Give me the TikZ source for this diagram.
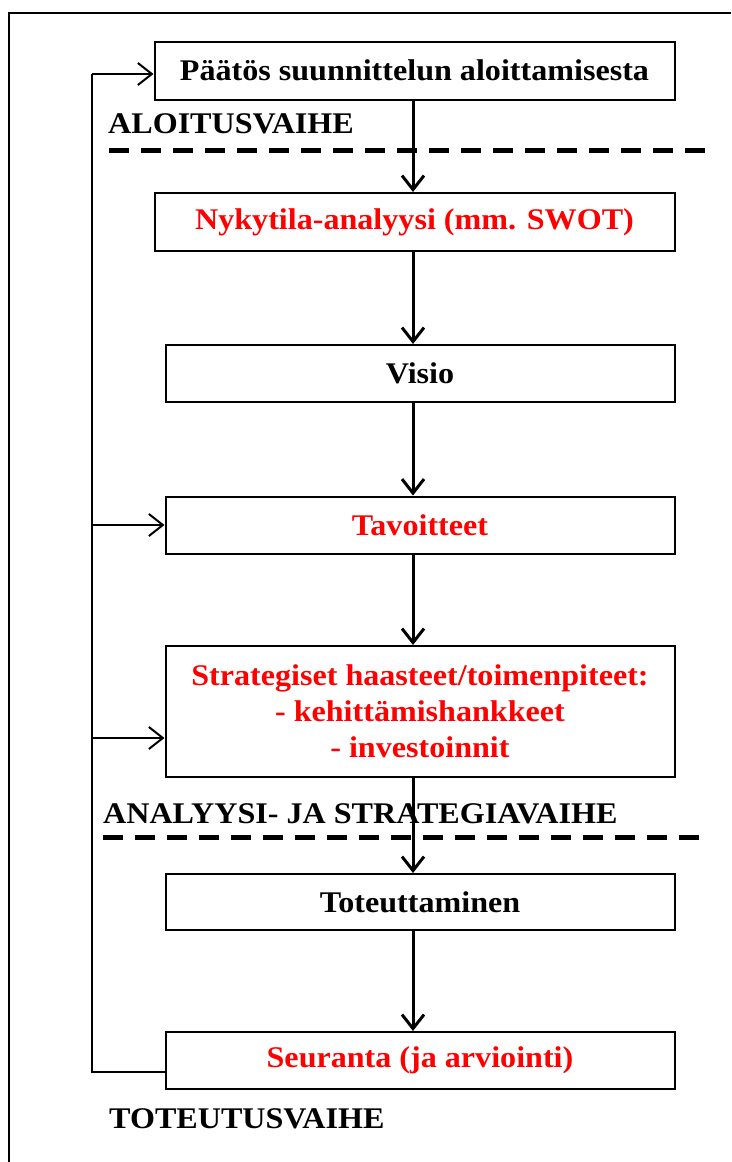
\documentclass[tikz,border=0pt]{standalone}
\usepackage{fontspec}
\setmainfont{Liberation Serif}[FakeStretch=1.07]
\usetikzlibrary{arrows.meta}
\definecolor{pred}{RGB}{255,0,0}
\tikzset{
  box/.style={draw=black, line width=2pt, rectangle, inner sep=0pt, align=center,
    font=\fontsize{30}{36}\selectfont\bfseries},
  redtxt/.style={text=pred},
  flow/.style={line width=3pt, -{Straight Barb[length=14pt,width=22pt,line width=3pt]}},
  fb/.style={line width=2pt},
  fbarrow/.style={line width=2pt, -{Straight Barb[length=14pt,width=22pt,line width=2pt]}},
  phase/.style={anchor=base west, inner sep=0pt, font=\fontsize{30}{36}\selectfont\bfseries},
  sep/.style={line width=5pt, dash pattern=on 20pt off 12pt}
}
\begin{document}
\begin{tikzpicture}[x=1pt,y=-1pt]
\useasboundingbox (0,0) rectangle (731,1162);
% outer frame
\draw[line width=2pt] (9,1162) -- (9,12.7) -- (731,12.7);

\node[box, minimum width=520pt, minimum height=58pt] (b1) at (414.5,70.5) {P\"a\"at\"os suunnittelun aloittamisesta};
\node[box, redtxt, minimum width=520pt, minimum height=58pt] (b2) at (414.5,222) {Nykytila-analyysi (mm. SWOT)};
\node[box, minimum width=509pt, minimum height=57pt] (b3) at (420,373.5) {Visio};
\node[box, redtxt, minimum width=509pt, minimum height=57pt] (b4) at (420,525) {Tavoitteet};
\node[box, redtxt, minimum width=509pt, minimum height=131pt] (b5) at (420,711.5) {Strategiset haasteet/toimenpiteet:\\- kehitt\"amishankkeet\\- investoinnit};
\node[box, minimum width=509pt, minimum height=56pt] (b6) at (420,902) {Toteuttaminen};
\node[box, redtxt, minimum width=509pt, minimum height=57pt] (b7) at (420,1060.5) {Seuranta (ja arviointi)};

% phase labels
\node[phase] (p1) at (108,133) {ALOITUSVAIHE};
\node[phase] (p2) at (103,823) {ANALYYSI- JA STRATEGIAVAIHE};
\node[phase] (p3) at (109,1128) {TOTEUTUSVAIHE};

% separators
\coordinate (s1a) at (109,150); \coordinate (s1b) at (709,150);
\coordinate (s2a) at (103,837); \coordinate (s2b) at (702,837);
\draw[sep] (s1a) -- (s1b);
\draw[sep] (s2a) -- (s2b);

% main flow
\coordinate (ax) at (413,0);
\draw[flow] (b1.south -| ax) -- (b2.north -| ax);
\draw[flow] (b2.south -| ax) -- (b3.north -| ax);
\draw[flow] (b3.south -| ax) -- (b4.north -| ax);
\draw[flow] (b4.south -| ax) -- (b5.north -| ax);
\draw[flow] (b5.south -| ax) -- (b6.north -| ax);
\draw[flow] (b6.south -| ax) -- (b7.north -| ax);

% feedback
\coordinate (fx) at (92,0);
\coordinate (y1) at (0,74);
\coordinate (y4) at (0,525);
\coordinate (y5) at (0,738);
\coordinate (y7) at (0,1072);
\draw[fb] (b7.west |- y7) -- (fx |- y7) -- (fx |- y1);
\draw[fbarrow] (fx |- y1) -- (b1.west |- y1);
\draw[fbarrow] (fx |- y4) -- (b4.west |- y4);
\draw[fbarrow] (fx |- y5) -- (b5.west |- y5);
\end{tikzpicture}
\end{document}
